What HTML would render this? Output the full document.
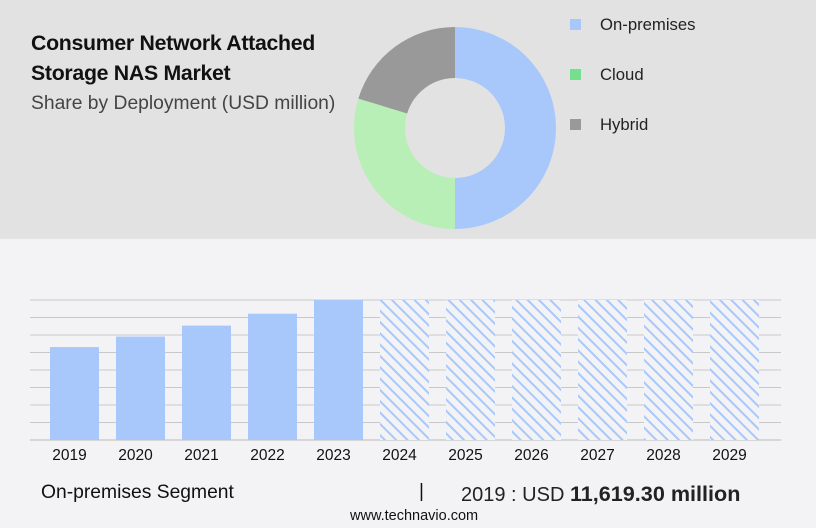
<!DOCTYPE html>
<html><head><meta charset="utf-8"><style>
body{margin:0;width:816px;height:528px;background:#f3f3f5;font-family:"Liberation Sans",sans-serif;overflow:hidden;position:relative}
#top{position:absolute;left:0;top:0;width:816px;height:239px;background:#e2e2e2}
.t{position:absolute;color:#111;white-space:nowrap}
</style></head><body>
<div id="top"></div>
<div class="t" style="left:31px;top:28px;font-size:21.3px;font-weight:bold;line-height:30px;letter-spacing:-0.3px">Consumer Network Attached<br>Storage NAS Market</div>
<div class="t" style="left:31px;top:93px;font-size:19.3px;color:#444">Share by Deployment (USD million)</div>
<svg id="svg" width="816" height="528" style="position:absolute;left:0;top:0">
<defs><pattern id="hatch" patternUnits="userSpaceOnUse" width="8" height="8" patternTransform="rotate(-45)"><rect width="8" height="8" fill="#f3f3f5"/><rect x="0" y="0" width="2" height="8" fill="#a8c8fb"/></pattern></defs>
<g id="donut"></g><g id="legend"></g><g id="grid"></g><g id="bars"></g><g id="xlabels"></g>
</svg>
<div class="t" style="left:41px;top:482px;font-size:19.3px">On-premises Segment</div>
<div class="t" style="left:419px;top:481px;font-size:19px">|</div>
<div class="t" style="left:461px;top:481px;font-size:20px;color:#222">2019 : USD <b style="font-size:21.6px">11,619.30 million</b></div>
<div class="t" style="left:350px;top:508px;font-size:14.5px">www.technavio.com</div>
<script>
const segments=["On-premises","Cloud","Hybrid"];
const shares=[50,29.7,20.3];
const segColors=["#a8c8fb","#b7efb7","#999999"];
const legendColors=["#a8c8fb","#74e08e","#999999"];
const years=["2019","2020","2021","2022","2023","2024","2025","2026","2027","2028","2029"];
const values=[11619.3,12930,14300,15790,17500,17500,17500,17500,17500,17500,17500];
const forecast=[false,false,false,false,false,true,true,true,true,true,true];
const NS="http://www.w3.org/2000/svg";
function mk(t,a,p){const e=document.createElementNS(NS,t);for(const k in a)e.setAttribute(k,a[k]);p.appendChild(e);return e;}
const cx=455,cy=128,R=101,r=50;const tot=shares.reduce((a,b)=>a+b,0);let ang=0;
const dg=document.getElementById('donut');
function pt(a,rad){return [cx+rad*Math.sin(a),cy-rad*Math.cos(a)];}
shares.forEach((v,i)=>{const a0=ang,a1=ang+v/tot*2*Math.PI;ang=a1;const L=(a1-a0)>Math.PI?1:0;
const[p0x,p0y]=pt(a0,R),[p1x,p1y]=pt(a1,R),[q1x,q1y]=pt(a1,r),[q0x,q0y]=pt(a0,r);
const e=mk('path',{d:`M${p0x},${p0y}A${R},${R} 0 ${L} 1 ${p1x},${p1y}L${q1x},${q1y}A${r},${r} 0 ${L} 0 ${q0x},${q0y}Z`,fill:segColors[i]},dg);

});
const lg=document.getElementById('legend');
segments.forEach((s,i)=>{const y=25+i*50;
const rc=mk('rect',{x:570,y:y-6,width:11,height:11,fill:legendColors[i]},lg);


const t=mk('text',{x:600,y:y+5,'font-size':16.7,fill:'#222','font-family':'Liberation Sans'},lg);t.textContent=s;

});
const base=440,top0=300,ymax=17500;const ys=v=>base-(v/ymax)*(base-top0);
const x0=50,pitch=66,bw=49;
const gg=document.getElementById('grid');
for(let i=0;i<=8;i++){const y=top0+i*(base-top0)/8;const l=mk('line',{x1:30,x2:781,y1:y,y2:y,stroke:i==8?'#bbb':'#c8c8c8','stroke-width':1},gg);

}
const bg=document.getElementById('bars'),xg=document.getElementById('xlabels');
values.forEach((v,i)=>{const x=x0+i*pitch,y=ys(v);
const b=mk('rect',{x:x,y:y,width:bw,height:base-y,fill:forecast[i]?'url(#hatch)':'#a8c8fb'},bg);


const t=mk('text',{x:x+bw/2-5,y:460,'text-anchor':'middle','font-size':15.5,fill:'#111','font-family':'Liberation Sans'},xg);t.textContent=years[i];

});
</script>
</body></html>
